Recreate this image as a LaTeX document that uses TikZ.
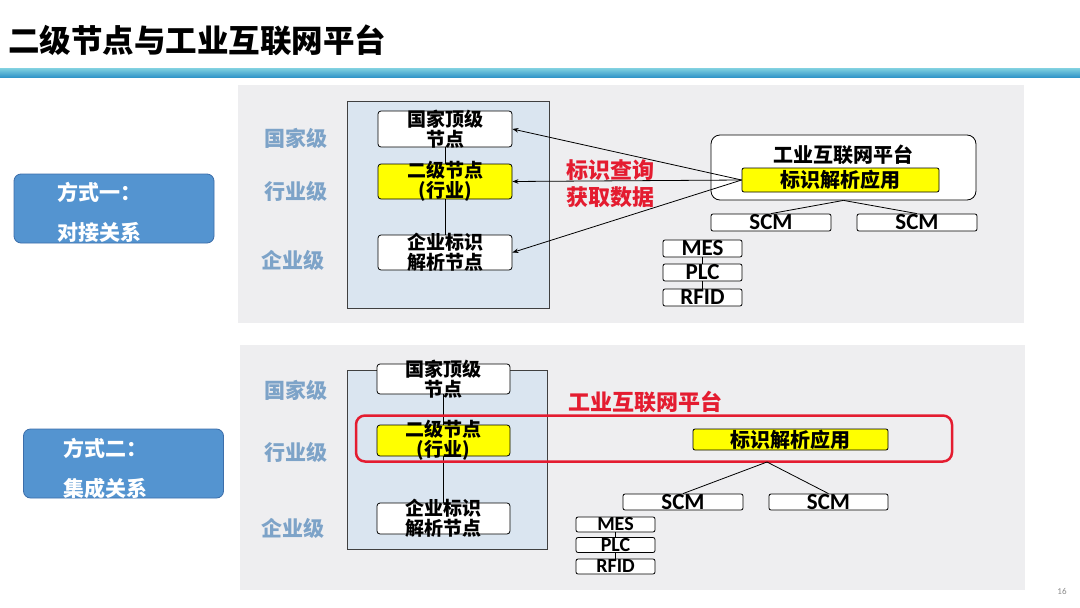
\documentclass[tikz,border=0pt]{standalone}
\usepackage{fontspec}
\setmainfont{Carlito}
\newfontfamily\cjk{Noto Sans CJK SC}
\usetikzlibrary{arrows.meta}
\definecolor{panelgray}{RGB}{238,238,240}
\definecolor{lvlblue}{RGB}{218,229,240}
\definecolor{lvltext}{RGB}{125,163,200}
\definecolor{boxblue}{RGB}{84,148,208}
\definecolor{boxedge}{RGB}{60,110,170}
\definecolor{hired}{RGB}{228,28,48}
\definecolor{yel}{RGB}{255,255,0}
\definecolor{linetop}{RGB}{130,210,225}
\definecolor{linebot}{RGB}{50,150,200}
\newcommand\cb{\cjk\bfseries}
\begin{document}
\begin{tikzpicture}[x=1pt,y=-1pt,
  panel/.style={fill=panelgray,draw=none},
  lvlrect/.style={fill=lvlblue,draw=black!75,line width=0.9pt},
  lvl/.style={text=lvltext,font=\cb\fontsize{21}{22}\selectfont,inner sep=0pt},
  idbox/.style={draw=black,fill=white,rounded corners=3pt,line width=0.8pt,inner sep=0pt,minimum width=134pt},
  idtxt/.style={font=\cb\fontsize{19}{20}\selectfont,align=center,inner sep=0pt},
  yelbox/.style={draw=black,fill=yel,rounded corners=2pt,line width=0.8pt,inner sep=0pt},
  sysbox/.style={draw=black,fill=white,rounded corners=2pt,line width=0.8pt,inner sep=0pt},
  systxt/.style={font=\bfseries\fontsize{23}{24}\selectfont,inner sep=0pt},
  systxtsm/.style={font=\bfseries\fontsize{20}{21}\selectfont,inner sep=0pt},
  modebox/.style={fill=boxblue,draw=boxedge,line width=0.8pt,rounded corners=7pt,minimum width=200pt,minimum height=69pt,inner sep=0pt},
  modetxt/.style={text=white,font=\cb\fontsize{21}{22}\selectfont,inner sep=0pt,anchor=west},
  conn/.style={draw=black,line width=0.8pt},
  arr/.style={conn,-{Stealth[length=6pt,width=4.5pt]}}
]
\useasboundingbox (0,0) rectangle (1080,608);
\fill[white] (0,0) rectangle (1080,608);
% title
\node[anchor=west,font=\cb\fontsize{31.5}{32}\selectfont,inner sep=0pt] (title) at (8,40) {二级节点与工业互联网平台};
\shade[top color=linetop,bottom color=linebot] (0,68) rectangle (1080,77);
% panels
\fill[panelgray] (238,85) rectangle (1024,323);
\fill[panelgray] (240,345) rectangle (1025,590);
% mode boxes
\node[modebox] (mode1) at (114,208.5) {};
\node[modetxt] (mode1a) at (57,192) {方式一：};
\node[modetxt] (mode1b) at (57,232) {对接关系};
\node[modebox] (mode2) at (123.5,463.5) {};
\node[modetxt] (mode2a) at (63,448) {方式二：};
\node[modetxt] (mode2b) at (63,488) {集成关系};

% ===== panel 1 =====
\draw[lvlrect] (347,101) rectangle (549,308);
\node[lvl] (l1a) at (296,138) {国家级};
\node[lvl] (l1b) at (296,191) {行业级};
\node[lvl] (l1c) at (293,260) {企业级};
\node[idbox,minimum height=36pt,label={[idtxt]center:国家顶级\\节点}] (top1) at (445,129) {};
\node[idbox,fill=yel,minimum height=35pt,label={[idtxt]center:二级节点\\(行业)}] (mid1) at (445,181.5) {};
\node[idbox,minimum height=35pt,label={[idtxt]center:企业标识\\解析节点}] (bot1) at (445,252.5) {};
\draw[conn] (top1.south) -- (mid1.north);
\draw[conn] (mid1.south) -- (bot1.north);
\node[draw=black,fill=white,rounded corners=9pt,line width=0.8pt,minimum width=265pt,minimum height=65pt,inner sep=0pt] (plat1) at (843.5,167.5) {};
\node[font=\cb\fontsize{20}{21}\selectfont,inner sep=0pt] (plat1t) at (843,155) {工业互联网平台};
\node[yelbox,minimum width=197pt,minimum height=24pt,label={[font=\cb\fontsize{20}{21}\selectfont,inner sep=0pt]center:标识解析应用}] (app1) at (840.5,180) {};
\draw[arr] (app1.west) -- (top1.east);
\draw[arr] (app1.west) -- (mid1.east);
\draw[arr] (app1.west) -- (bot1.east);
\node[text=hired,font=\cb\fontsize{22}{23}\selectfont,inner sep=0pt] (q1) at (610,170) {标识查询};
\node[text=hired,font=\cb\fontsize{22}{23}\selectfont,inner sep=0pt] (q2) at (610,197) {获取数据};
\node[sysbox,minimum width=120pt,minimum height=17pt,label={[systxt]center:SCM}] (scm1a) at (771,222.5) {};
\node[sysbox,minimum width=120pt,minimum height=17pt,label={[systxt]center:SCM}] (scm1b) at (917,222.5) {};
\draw[conn] (plat1.south) -- (scm1a.north);
\draw[conn] (plat1.south) -- (scm1b.north);
\node[sysbox,minimum width=79pt,minimum height=17pt,label={[systxt]center:MES}] (mes1) at (702.5,248.5) {};
\node[sysbox,minimum width=79pt,minimum height=17pt,label={[systxt]center:PLC}] (plc1) at (702.5,272.5) {};
\node[sysbox,minimum width=79pt,minimum height=17pt,label={[systxt]center:RFID}] (rfid1) at (702.5,297.5) {};
\draw[conn] (mes1.south) -- (plc1.north);
\draw[conn] (plc1.south) -- (rfid1.north);

% ===== panel 2 =====
\draw[lvlrect] (347,370) rectangle (547,549);
\node[lvl] (l2a) at (296,390) {国家级};
\node[lvl] (l2b) at (296,452) {行业级};
\node[lvl] (l2c) at (293,528) {企业级};
\node[idbox,minimum width=133pt,minimum height=30pt,label={[idtxt]center:国家顶级\\节点}] (top2) at (443.5,379) {};
\node[idbox,minimum width=133pt,fill=yel,minimum height=31pt,label={[idtxt]center:二级节点\\(行业)}] (mid2) at (443.5,440.5) {};
\node[idbox,minimum width=133pt,minimum height=31pt,label={[idtxt]center:企业标识\\解析节点}] (bot2) at (443.5,518.5) {};
\draw[conn] (top2.south) -- (mid2.north);
\draw[conn] (mid2.south) -- (bot2.north);
\node[draw=hired,line width=2.5pt,rounded corners=9pt,minimum width=596pt,minimum height=46pt,inner sep=0pt] (plat2) at (654,438.5) {};
\node[text=hired,font=\cb\fontsize{22}{23}\selectfont,inner sep=0pt] (plat2t) at (645,402) {工业互联网平台};
\node[yelbox,minimum width=195pt,minimum height=21pt,label={[font=\cb\fontsize{20}{21}\selectfont,inner sep=0pt]center:标识解析应用}] (app2) at (790.5,439.5) {};
\coordinate (apex2) at (767,462);
\node[sysbox,minimum width=120pt,minimum height=16pt,label={[systxt]center:SCM}] (scm2a) at (683,502) {};
\node[sysbox,minimum width=119pt,minimum height=16pt,label={[systxt]center:SCM}] (scm2b) at (828.5,502) {};
\draw[conn] (apex2) -- (scm2a.north);
\draw[conn] (apex2) -- (scm2b.north);
\node[sysbox,minimum width=79pt,minimum height=15pt,label={[systxtsm]center:MES}] (mes2) at (615.5,524.5) {};
\node[sysbox,minimum width=79pt,minimum height=15pt,label={[systxtsm]center:PLC}] (plc2) at (615.5,545) {};
\node[sysbox,minimum width=79pt,minimum height=15pt,label={[systxtsm]center:RFID}] (rfid2) at (615.5,566.5) {};
\draw[conn] (mes2.south) -- (plc2.north);
\draw[conn] (plc2.south) -- (rfid2.north);

\node[text=black!45,font=\fontsize{9}{10}\selectfont,inner sep=0pt] (pg) at (1062,591) {16};
\end{tikzpicture}
\end{document}
